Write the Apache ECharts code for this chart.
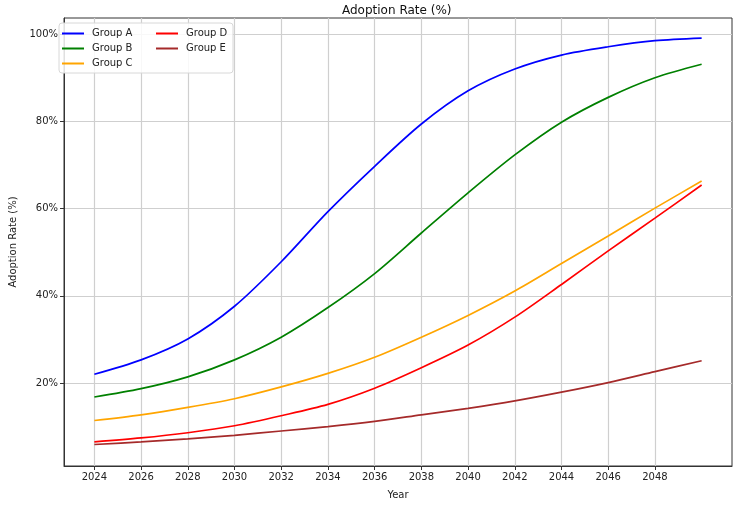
<!DOCTYPE html>
<html>
<head>
<meta charset="utf-8">
<script src="https://cdn.jsdelivr.net/npm/echarts@6/dist/echarts.min.js"></script>
<style>
  html, body { margin: 0; padding: 0; background: #fff; }
  #chart { width: 734px; height: 505px; }
</style>
</head>
<body>
<div id="chart"></div>
<script>
// values, every 2 years
var years = [2024, 2026, 2028, 2030, 2032, 2034, 2036, 2038, 2040, 2042, 2044, 2046, 2048, 2050];
var groupA = [22.0, 25.3, 30.1, 37.6, 47.8, 59.3, 69.7, 79.4, 87.0, 92.0, 95.2, 97.1, 98.5, 99.1];
var groupB = [16.8, 18.7, 21.4, 25.3, 30.5, 37.3, 45.1, 54.4, 63.6, 72.3, 79.8, 85.5, 90.0, 93.1];
var groupC = [11.4, 12.7, 14.4, 16.4, 19.1, 22.2, 25.9, 30.5, 35.5, 41.1, 47.4, 53.7, 60.1, 66.3];
var groupD = [6.5, 7.4, 8.6, 10.2, 12.5, 15.1, 18.8, 23.5, 28.7, 35.1, 42.6, 50.3, 57.8, 65.4];
var groupE = [5.9, 6.5, 7.2, 8.0, 9.0, 10.0, 11.2, 12.7, 14.2, 15.9, 17.9, 20.1, 22.6, 25.1];

var xTicks = [2024, 2026, 2028, 2030, 2032, 2034, 2036, 2038, 2040, 2042, 2044, 2046, 2048];
var yTicks = [20, 40, 60, 80, 100];

var names = ['Group A', 'Group B', 'Group C', 'Group D', 'Group E'];
var colors = ['#0000ff', '#008000', '#ffa500', '#ff0000', '#a52a2a'];
var values = [groupA, groupB, groupC, groupD, groupE];

var font = 'DejaVu Sans';

function pairs(arr) {
    return years.map(function (y, i) { return [y, arr[i]]; });
}

var series = names.map(function (n, i) {
    return {
        name: n,
        type: 'line',
        data: pairs(values[i]),
        smooth: 0.3,
        showSymbol: false,
        lineStyle: { color: colors[i], width: 1.7 },
        itemStyle: { color: colors[i] }
    };
});

function legendData(list) {
    return list.map(function (n) { return { name: n, icon: 'rect' }; });
}

var legendCommon = {
    orient: 'vertical',
    itemWidth: 22,
    itemHeight: 2,
    itemGap: 4,
    padding: 0,
    textStyle: { fontFamily: font, fontSize: 10, color: '#222', lineHeight: 11, padding: [0, 0, 0, 3] }
};

var chart = echarts.init(document.getElementById('chart'));
chart.setOption({
    animation: false,
    title: {
        text: 'Adoption Rate (%)',
        left: 337,
        top: 0,
        textStyle: { fontFamily: font, fontSize: 12, fontWeight: 'normal', color: '#111' }
    },
    graphic: [{
        type: 'rect',
        z: 3,
        shape: { x: 59, y: 23, width: 174, height: 50, r: 3 },
        style: { fill: 'rgba(255,255,255,0.85)', stroke: '#d8d8d8', lineWidth: 1 }
    }],
    legend: [
        Object.assign({ left: 62, top: 28, data: legendData(names.slice(0, 3)) }, legendCommon),
        Object.assign({ left: 156, top: 28, data: legendData(names.slice(3)) }, legendCommon)
    ],
    grid: {
        left: 54, right: 2, top: 18, bottom: 31,
        show: true, borderColor: '#333', borderWidth: 1, backgroundColor: 'transparent'
    },
    xAxis: {
        type: 'value',
        min: 2022.7,
        max: 2051.3,
        name: 'Year',
        nameLocation: 'middle',
        nameGap: 24,
        nameTextStyle: { fontFamily: font, fontSize: 10, color: '#222' },
        axisLine: { lineStyle: { color: '#333' } },
        axisTick: { customValues: xTicks, length: 4, lineStyle: { color: '#333' } },
        axisLabel: {
            customValues: xTicks, fontFamily: font, fontSize: 10, color: '#222', margin: 6,
            formatter: function (v) { return String(v); }
        },
        splitLine: { show: true, lineStyle: { color: '#cfcfcf', width: 1.2 } }
    },
    yAxis: {
        type: 'value',
        min: 0.97,
        max: 103.7,
        name: 'Adoption Rate (%)',
        nameLocation: 'middle',
        nameGap: 46,
        nameTextStyle: { fontFamily: font, fontSize: 10, color: '#222' },
        axisLine: { show: true, lineStyle: { color: '#333' } },
        axisTick: { show: true, customValues: yTicks, length: 4, lineStyle: { color: '#333' } },
        axisLabel: {
            customValues: yTicks, fontFamily: font, fontSize: 10, color: '#222', margin: 6,
            formatter: function (v) { return v + '%'; }
        },
        splitLine: { show: true, lineStyle: { color: '#cfcfcf', width: 1.2 } }
    },
    series: series
});
</script>
</body>
</html>
